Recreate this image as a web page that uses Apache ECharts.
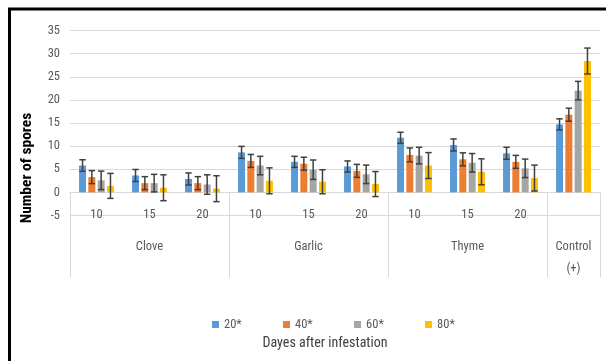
<!DOCTYPE html>
<html><head><meta charset="utf-8">
<script src="https://cdn.jsdelivr.net/npm/echarts@6/dist/echarts.min.js"></script>
<style>html,body{margin:0;padding:0;background:#fff}#c{width:606px;height:361px}</style>
</head><body><div id="c"></div>
<script>
const days = ['10', '15', '20', '10', '15', '20', '10', '15', '20', ''];
const groups = ['', 'Clove', '', '', 'Garlic', '', '', 'Thyme', '', 'Control\n(+)'];
const seriesNames = ['20*', '40*', '60*', '80*'];
const v20 = [5.8, 3.65, 2.9, 8.65, 6.6, 5.6, 11.8, 10.25, 8.45, 14.7];
const v40 = [3.3, 2.0, 2.0, 6.8, 6.2, 4.65, 8.1, 7.15, 6.6, 16.8];
const v60 = [2.6, 2.0, 1.7, 5.8, 4.9, 3.9, 7.95, 6.4, 5.2, 22.0];
const v80 = [1.4, 1.0, 0.8, 2.5, 2.3, 1.8, 5.8, 4.45, 3.1, 28.4];
const e20 = [1.25, 1.3, 1.3, 1.3, 1.2, 1.2, 1.2, 1.3, 1.3, 1.2];
const e40 = [1.4, 1.4, 1.4, 1.4, 1.4, 1.4, 1.5, 1.4, 1.4, 1.4];
const e60 = [2.0, 1.9, 2.1, 2.0, 2.1, 2.0, 1.8, 2.0, 2.0, 2.0];
const e80 = [2.7, 2.8, 2.8, 2.8, 2.6, 2.7, 2.8, 2.8, 2.8, 2.8];
const yMin = -5, yMax = 35, yStep = 5;
const yTitle = 'Number of spores';
const xTitle = 'Dayes after infestation';

const values = [v20, v40, v60, v80];
const errors = [e20, e40, e60, e80];
const colors = ['#5B9BD5', '#ED7D31', '#A5A5A5', '#FFC000'];
const FONT = '"Liberation Sans Narrow", "Arial Narrow", "Roboto Condensed", sans-serif';
const TXT = '#595959';
const BAR_W = 7, GAP = 0.33;
const PITCH = BAR_W * (1 + GAP);

const chart = echarts.init(document.getElementById('c'));

const series = [];
values.forEach((vals, s) => {
  series.push({
    name: seriesNames[s], type: 'bar', data: vals,
    barWidth: BAR_W, barGap: (GAP * 100) + '%',
    itemStyle: { color: colors[s] }, z: 2
  });
});
values.forEach((vals, s) => {
  series.push({
    name: 'err' + s, type: 'custom', z: 5,
    data: vals.map((v, i) => [i, v, errors[s][i]]),
    encode: { x: 0, y: 1 },
    renderItem: function (params, api) {
      const i = api.value(0), v = api.value(1), e = api.value(2);
      const off = (s - 1.5) * PITCH;
      const top = api.coord([i, v + e]);
      const bot = api.coord([i, v - e]);
      const x = top[0] + off;
      const cap = 3.2;
      const st = { stroke: '#404040', lineWidth: 1.5 };
      return {
        type: 'group', children: [
          { type: 'line', shape: { x1: x, y1: top[1], x2: x, y2: bot[1] }, style: st },
          { type: 'line', shape: { x1: x - cap, y1: top[1], x2: x + cap, y2: top[1] }, style: st },
          { type: 'line', shape: { x1: x - cap, y1: bot[1], x2: x + cap, y2: bot[1] }, style: st }
        ]
      };
    }
  });
});

chart.setOption({
  animation: false,
  textStyle: { fontFamily: FONT },
  grid: { left: 70, right: 6, top: 30.5, bottom: 145.5, containLabel: false },
  legend: {
    data: seriesNames, left: 207, top: 313, itemWidth: 7, itemHeight: 7, itemGap: 41.3,
    icon: 'rect', textStyle: { fontFamily: FONT, fontSize: 12.5, color: TXT }
  },
  xAxis: [{
    type: 'category', data: days,
    axisLine: { onZero: true, lineStyle: { color: '#d9d9d9', width: 1 } },
    axisTick: { show: true, length: 85, interval: (i) => i % 3 === 0, lineStyle: { color: '#d9d9d9', width: 1 } },
    axisLabel: { interval: 0, margin: -7, fontSize: 12.5, color: TXT, fontFamily: FONT },
    splitLine: { show: false }
  }, {
    type: 'category', data: groups, position: 'bottom',
    axisLine: { show: false, onZero: false },
    axisTick: { show: false },
    axisLabel: { interval: 0, margin: 20.5, fontSize: 12.5, lineHeight: 22, color: TXT, fontFamily: FONT },
    splitLine: { show: false }
  }],
  yAxis: {
    type: 'value', min: yMin, max: yMax, interval: yStep,
    axisLine: { show: false }, axisTick: { show: false },
    axisLabel: { margin: 10, fontSize: 12.5, color: TXT, fontFamily: FONT },
    splitLine: { lineStyle: { color: '#d9d9d9', width: 1 } }
  },
  graphic: [
    { type: 'rect', shape: { x: 9.5, y: 9, width: 640, height: 400 }, style: { fill: 'none', stroke: '#000', lineWidth: 3 }, silent: true },
    { type: 'text', x: 27, y: 168, rotation: Math.PI / 2, style: { text: yTitle, font: 'bold 15.5px ' + FONT, fill: '#000', textAlign: 'center', textVerticalAlign: 'middle' } },
    { type: 'text', x: 325, y: 343, style: { text: xTitle, font: '14px ' + FONT, fill: '#404040', textAlign: 'center', textVerticalAlign: 'middle' } }
  ],
  series: series
});
</script></body></html>
